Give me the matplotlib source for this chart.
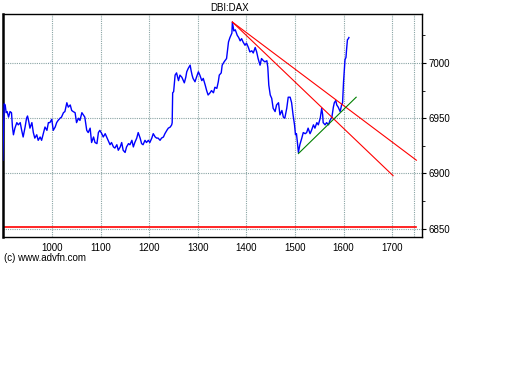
import matplotlib
matplotlib.use("Agg")
import matplotlib.pyplot as plt

plt.rcParams["font.family"] = ["Liberation Sans", "DejaVu Sans"]

# price series (bar index, price)
px_x = [898, 901, 903, 905, 907, 910, 913, 916, 918, 920, 923, 927, 930, 934, 937, 940,
        944, 947, 949, 952, 954, 958, 961, 964, 968, 971, 975, 978, 982, 985, 989, 992,
        995, 999, 1002, 1006, 1009, 1012, 1016, 1019, 1023, 1026, 1030, 1033, 1037, 1040,
        1043, 1047, 1050, 1054, 1057, 1061, 1064, 1067, 1071, 1074, 1078, 1081, 1085, 1088,
        1092, 1095, 1098, 1102, 1105, 1109, 1112, 1115, 1119, 1122, 1126, 1129, 1133, 1136,
        1140, 1143, 1146, 1150, 1153, 1157, 1160, 1164, 1167, 1170, 1174, 1177, 1181, 1184,
        1187, 1191, 1194, 1198, 1201, 1205, 1208, 1212, 1215, 1218, 1222, 1225, 1229, 1232,
        1236, 1239, 1243, 1246, 1247, 1248, 1250, 1253, 1256, 1260, 1263, 1267, 1270, 1272,
        1275, 1277, 1280, 1284, 1286, 1288, 1290, 1294, 1297, 1301, 1304, 1308, 1311, 1315,
        1318, 1321, 1325, 1328, 1332, 1335, 1339, 1342, 1344, 1348, 1350, 1354, 1359, 1363,
        1366, 1370, 1371, 1374, 1377, 1381, 1384, 1387, 1390, 1393, 1397, 1400, 1404, 1407,
        1411, 1414, 1418, 1421, 1424, 1428, 1431, 1435, 1438, 1442, 1444, 1446, 1449, 1452,
        1455, 1459, 1462, 1466, 1469, 1473, 1476, 1479, 1483, 1486, 1490, 1493, 1496, 1499,
        1501, 1503, 1505, 1507, 1510, 1514, 1517, 1521, 1524, 1527, 1531, 1534, 1538, 1541,
        1545, 1548, 1552, 1555, 1557, 1558, 1562, 1565, 1569, 1572, 1576, 1579, 1581, 1584,
        1586, 1589, 1593, 1596, 1598, 1600, 1602, 1603, 1605, 1606, 1608, 1610, 1611]
px_y = [6912, 6963, 6962, 6955, 6956, 6951, 6956, 6955, 6942, 6935, 6941, 6946, 6944, 6946, 6939, 6933,
        6942, 6950, 6952, 6946, 6941, 6946, 6937, 6932, 6935, 6930, 6933, 6930, 6937, 6942, 6939, 6946,
        6946, 6949, 6939, 6942, 6946, 6948, 6950, 6951, 6955, 6956, 6964, 6960, 6962, 6957,
        6956, 6955, 6946, 6950, 6948, 6955, 6953, 6951, 6939, 6937, 6941, 6928, 6933, 6928,
        6927, 6937, 6939, 6936, 6933, 6936, 6933, 6930, 6926, 6928, 6924, 6923, 6926, 6921,
        6924, 6928, 6921, 6919, 6924, 6927, 6926, 6930, 6924, 6928, 6932, 6937, 6932, 6927,
        6926, 6930, 6928, 6930, 6928, 6932, 6936, 6933, 6932, 6932, 6930, 6932, 6933, 6936,
        6939, 6941, 6942, 6944, 6946, 6973, 6974, 6989, 6991, 6984, 6989, 6987, 6984, 6982,
        6987, 6992, 6995, 6998, 6993, 6989, 6986, 6983, 6987, 6992, 6989, 6984, 6986, 6980,
        6975, 6971, 6973, 6975, 6973, 6978, 6977, 6983, 6989, 6991, 6998, 7001, 7004, 7019,
        7023, 7027, 7037, 7029, 7030, 7025, 7023, 7020, 7022, 7019, 7016, 7018, 7014, 7010,
        7011, 7009, 7014, 7010, 7004, 6998, 7004, 7002, 7001, 7002, 6996, 6980, 6971, 6968,
        6959, 6956, 6962, 6964, 6953, 6957, 6951, 6950, 6959, 6969, 6969, 6964, 6953, 6944,
        6935, 6936, 6928, 6919, 6926, 6932, 6937, 6936, 6937, 6941, 6936, 6939, 6944, 6941,
        6946, 6944, 6950, 6959, 6953, 6946, 6944, 6946, 6944, 6948, 6951, 6960, 6964, 6966,
        6962, 6960, 6956, 6962, 6964, 6983, 6996, 7003, 7005, 7011, 7021, 7022, 7023]

# trend lines drawn on the chart (x pair, y pair)
red_outer_x = [1371, 1750]
red_outer_y = [7037, 6912]
red_inner_x = [1371, 1702]
red_inner_y = [7037, 6898]
green_x = [1507, 1626]
green_y = [6918, 6969]
support_x = [899, 1750]
support_y = [6852, 6852]

x_ticks = [1000, 1100, 1200, 1300, 1400, 1500, 1600, 1700]
y_ticks = [6850, 6900, 6950, 7000]
y_minor = [6875, 6925, 6975, 7025]

fig = plt.figure(figsize=(5.12, 3.84), dpi=100)
ax = fig.add_axes([3 / 512, 1 - 237 / 384, 419 / 512, 223 / 384])

ax.set_xlim(898.5, 1761.6)
ax.set_ylim(6842.5, 7044.3)

# dotted grey/cyan grid like the advfn charts
grid_kw = dict(color="#8aa4a4", linewidth=0.8, linestyle=(0, (1, 1)), zorder=1)
for xv in x_ticks + [1746]:
    ax.axvline(xv, **grid_kw)
for yv in y_ticks:
    ax.axhline(yv, **grid_kw)

ax.plot(support_x, support_y, color="red", linewidth=1.2, zorder=2)
ax.plot(px_x, px_y, color="#0000ff", linewidth=1.0, zorder=3)
ax.plot(red_outer_x, red_outer_y, color="red", linewidth=0.8, zorder=4)
ax.plot(red_inner_x, red_inner_y, color="red", linewidth=0.8, zorder=4)
ax.plot(green_x, green_y, color="green", linewidth=0.8, zorder=4)

ax.set_xticks(x_ticks)
ax.set_xticklabels([str(v) for v in x_ticks])
ax.set_yticks(y_ticks)
ax.set_yticks(y_minor, minor=True)
ax.yaxis.tick_right()
ax.tick_params(axis="x", length=0, labelsize=7, pad=4)
ax.tick_params(axis="y", which="major", direction="out", length=3, labelsize=7, pad=2)
ax.tick_params(axis="y", which="minor", direction="out", length=2)
ax.tick_params(axis="y", which="both", left=False)

for side in ["top", "bottom", "right"]:
    ax.spines[side].set_linewidth(1.0)
ax.spines["left"].set_linewidth(1.8)

fig.text(230 / 512, 1 - 8 / 384, "DBI:DAX", ha="center", va="center", fontsize=7)
fig.text(4 / 512, 1 - 258 / 384, "(c) www.advfn.com", ha="left", va="center", fontsize=7)

fig.savefig("out.png", dpi=100)
